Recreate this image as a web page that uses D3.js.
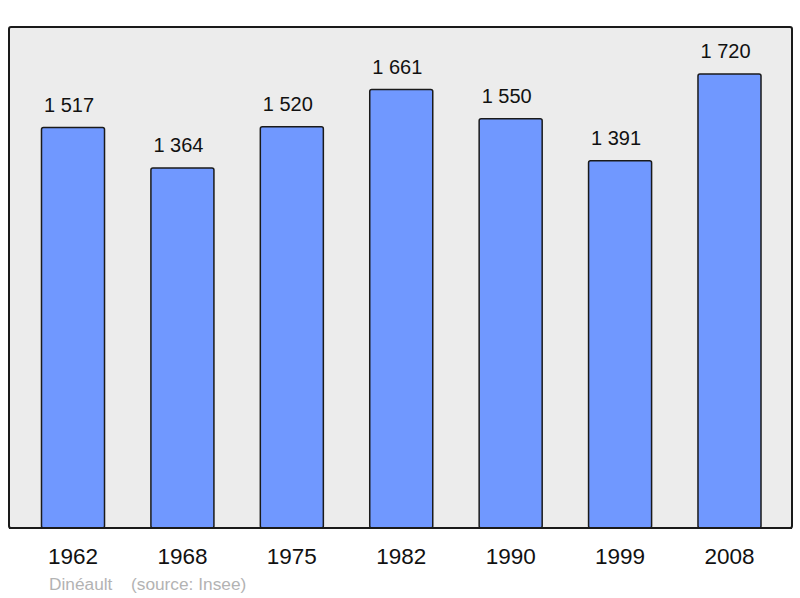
<!DOCTYPE html>
<html>
<head>
<meta charset="utf-8">
<script src="https://cdn.jsdelivr.net/npm/d3@7"></script>
<style>
  body { margin: 0; background: #fff; }
  svg { display: block; font-family: "Liberation Sans", Arial, sans-serif; }
</style>
</head>
<body>
<div id="chart"></div>
<script>
var years = ['1962', '1968', '1975', '1982', '1990', '1999', '2008'];
var population = [1517, 1364, 1520, 1661, 1550, 1391, 1720];
var footer = ['Dinéault', '(source: Insee)'];

var width = 800, height = 598;
var frame = {left: 9, top: 27, right: 792, bottom: 528};

var svg = d3.select('#chart').append('svg')
    .attr('width', width)
    .attr('height', height);

svg.append('rect')
    .attr('x', frame.left)
    .attr('y', frame.top)
    .attr('width', frame.right - frame.left)
    .attr('height', frame.bottom - frame.top)
    .attr('rx', 2)
    .attr('fill', '#ececec')
    .attr('stroke', '#1a1a1a')
    .attr('stroke-width', 2);

var x = d3.scaleBand()
    .domain(years)
    .range([18.3, 784.2])
    .paddingInner(0.424)
    .paddingOuter(0.212);

var y = d3.scaleLinear()
    .domain([0, 1898])
    .range([frame.bottom, frame.top]);

var fmt = function(v) { return d3.format(',')(v).replace(/,/g, '\u00a0'); };

svg.append('g').selectAll('rect')
    .data(population)
    .enter()
    .append('rect')
    .attr('x', function(d, i) { return x(years[i]); })
    .attr('y', function(d) { return y(d); })
    .attr('width', x.bandwidth())
    .attr('height', function(d) { return y(0) - y(d); })
    .attr('rx', 2)
    .attr('fill', '#7098ff')
    .attr('stroke', '#1a1a1a')
    .attr('stroke-width', 1.5);

svg.append('g').selectAll('text')
    .data(population)
    .enter()
    .append('text')
    .attr('x', function(d, i) { return x(years[i]) + x.bandwidth() / 2 - 4; })
    .attr('y', function(d) { return y(d) - 16; })
    .attr('text-anchor', 'middle')
    .attr('font-size', 20)
    .attr('fill', '#111')
    .text(fmt);

// redraw frame edge on top of bars bottom
svg.append('line')
    .attr('x1', frame.left).attr('x2', frame.right)
    .attr('y1', frame.bottom).attr('y2', frame.bottom)
    .attr('stroke', '#1a1a1a')
    .attr('stroke-width', 2);

svg.append('g').selectAll('text')
    .data(years)
    .enter()
    .append('text')
    .attr('x', function(d) { return x(d) + x.bandwidth() / 2; })
    .attr('y', 564)
    .attr('text-anchor', 'middle')
    .attr('font-size', 22.5)
    .attr('fill', '#111')
    .text(function(d) { return d; });

svg.append('text')
    .attr('x', 49)
    .attr('y', 590)
    .attr('font-size', 17.3)
    .attr('fill', '#b3b3b3')
    .text(footer[0]);

svg.append('text')
    .attr('x', 131)
    .attr('y', 590)
    .attr('font-size', 17.3)
    .attr('fill', '#b3b3b3')
    .text(footer[1]);
</script>
</body>
</html>
